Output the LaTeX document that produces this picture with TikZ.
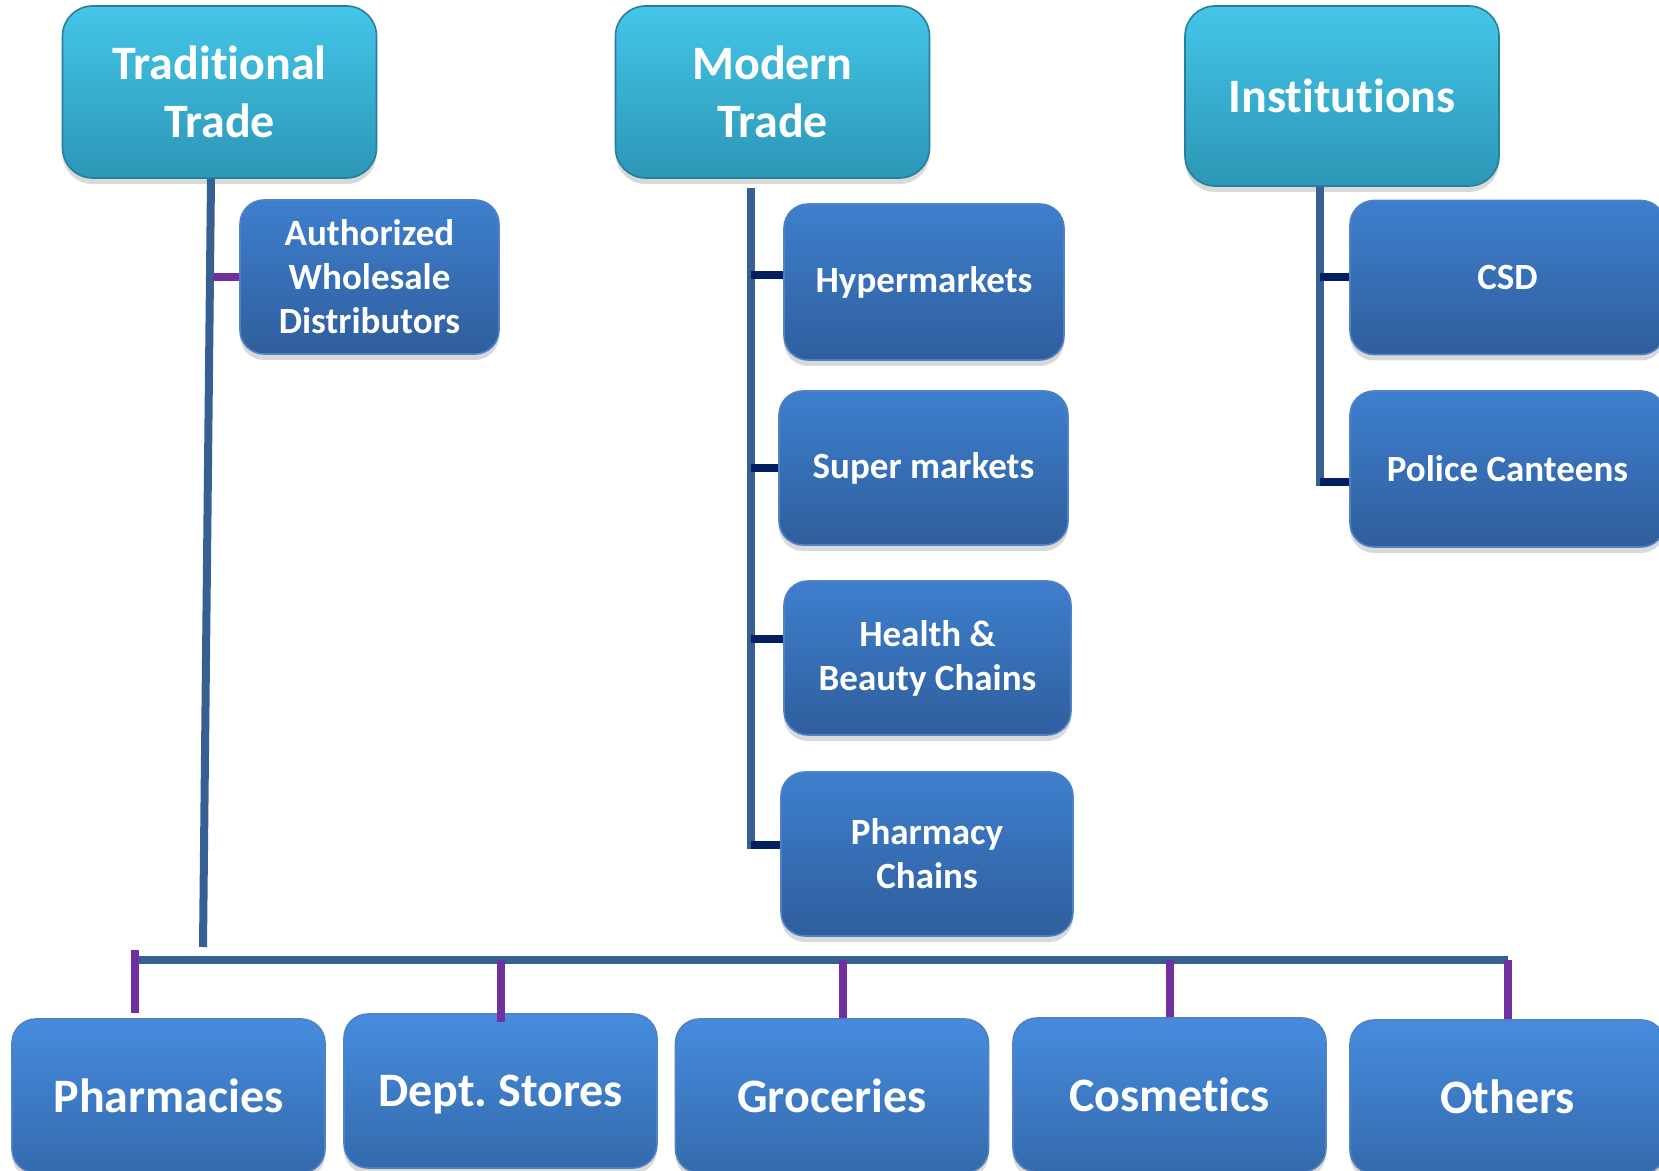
\documentclass[tikz,border=0pt]{standalone}
\usepackage{fontspec}
\setmainfont{Carlito}[Ligatures=NoCommon]
\usetikzlibrary{shadows}

\definecolor{hdrtop}{RGB}{68,198,232}
\definecolor{hdrbot}{RGB}{44,150,182}
\definecolor{hdredge}{RGB}{38,128,156}
\definecolor{boxtop}{RGB}{62,127,205}
\definecolor{boxbot}{RGB}{47,94,157}
\definecolor{boxedge}{RGB}{79,129,196}
\definecolor{lowtop}{RGB}{70,140,222}
\definecolor{lowbot}{RGB}{52,106,172}
\definecolor{trunkblue}{RGB}{55,96,146}
\definecolor{stubnavy}{RGB}{0,32,96}
\definecolor{stubpurple}{RGB}{112,48,160}

\begin{document}
\begin{tikzpicture}[x=0.5pt,y=-0.5pt,
  boxshadow/.style={drop shadow={opacity=0.3,shadow xshift=0pt,shadow yshift=-3pt}},
  header/.style={boxshadow,draw=hdredge,line width=0.8pt,rounded corners=15pt,
    top color=hdrtop,bottom color=hdrbot,text=white,align=center,inner sep=0pt,
    font=\fontsize{24}{29}\selectfont\bfseries,minimum width=157pt,minimum height=86pt},
  channel/.style={boxshadow,draw=boxedge,line width=0.8pt,rounded corners=12pt,
    top color=boxtop,bottom color=boxbot,text=white,align=center,inner sep=0pt,
    font=\fontsize{18.5}{22}\selectfont\bfseries,minimum height=77pt},
  outlet/.style={boxshadow,draw=boxedge,line width=0.8pt,rounded corners=12pt,
    top color=lowtop,bottom color=lowbot,text=white,align=center,inner sep=0pt,
    font=\fontsize{24}{29}\selectfont\bfseries,minimum width=156.5pt,minimum height=77pt},
  trunk/.style={draw=trunkblue,line width=4pt},
  navystub/.style={draw=stubnavy,line width=4pt},
  purplestub/.style={draw=stubpurple,line width=4pt}]

\useasboundingbox (0,0) rectangle (1659,1171);

% the three channel heads
\node[header] (tt) at (219.5,92) {Traditional\\Trade};
\node[header] (mt) at (772.5,92) {Modern\\Trade};
\node[header,minimum height=90pt] (inst) at (1342,96) {Institutions};

% traditional trade branch
\node[channel,minimum width=129.5pt] (awd) at (369.5,277) {Authorized\\Wholesale\\Distributors};

% modern trade branch
\node[channel,minimum width=140pt,minimum height=78pt] (hyper) at (924,282) {Hypermarkets};
\node[channel,minimum width=144.5pt] (super) at (923.5,468) {Super markets};
\node[channel,minimum width=143.5pt] (hb) at (927.5,658) {Health \&\\Beauty Chains};
\node[channel,minimum width=146pt,minimum height=82pt] (pchain) at (927,854) {Pharmacy\\Chains};

% institutions branch
\node[channel,minimum width=157.5pt] (csd) at (1507.5,277.5) {CSD};
\node[channel,minimum width=157.5pt,minimum height=78pt] (police) at (1507.5,469) {Police Canteens};

% outlets along the bottom
\node[outlet] (pharm) at (168.5,1096) {Pharmacies};
\node[outlet,text depth=0pt] (dept) at (500.5,1091) {Dept.\ Stores};
\node[outlet] (groc) at (832,1096) {Groceries};
\node[outlet] (cosm) at (1169.5,1095) {Cosmetics};
\node[outlet,minimum width=157.5pt] (others) at (1507.5,1097) {Others};

% free ends of the lines
\coordinate (ttfoot) at (203,947);
\coordinate (mtfoot) at (751,849);
\coordinate (instfoot) at (1320,486);
\coordinate (busL) at (135,960);
\coordinate (busR) at (1508,960);

% draw the trunks
\draw[trunk] ([xshift=-4.25pt]tt.south) -- (ttfoot);
\draw[trunk] ([xshift=-10.75pt,yshift=-4.5pt]mt.south) -- (mtfoot);
\draw[trunk] ([xshift=-11pt]inst.south) -- (instfoot);
\draw[trunk] (busL) -- (busR);

% side stubs
\draw[purplestub] (awd.west) -- ++(-26,0);
\draw[navystub] ([yshift=3.5pt]hyper.west) -- ([yshift=3.5pt]hyper.west -| mtfoot);
\draw[navystub] (super.west) -- (super.west -| mtfoot);
\draw[navystub] ([yshift=9.5pt]hb.west) -- ([yshift=9.5pt]hb.west -| mtfoot);
\draw[navystub] ([yshift=4.5pt]pchain.west) -- ([yshift=4.5pt]pchain.west -| mtfoot);
\draw[navystub] (csd.west) -- (csd.west -| instfoot);
\draw[navystub] ([yshift=-6.5pt]police.west) -- ([yshift=-6.5pt]police.west -| instfoot);

% drops to the outlets
\draw[purplestub] ([xshift=-16.75pt,yshift=2.5pt]pharm.north) -- ++(0,-63);
\draw[purplestub] ([yshift=-4.5pt]dept.north) -- (dept.north |- busL);
\draw[purplestub] ([xshift=5.5pt]groc.north) -- ([xshift=5.5pt]groc.north |- busL);
\draw[purplestub] (cosm.north) -- (cosm.north |- busL);
\draw[purplestub] (others.north) -- (others.north |- busL);
\end{tikzpicture}
\end{document}
